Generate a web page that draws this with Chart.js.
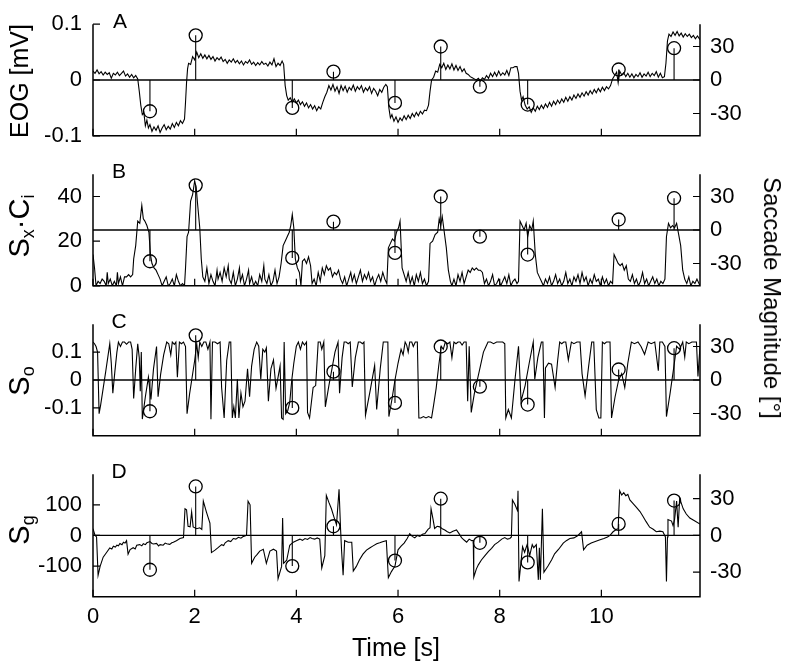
<!DOCTYPE html>
<html><head><meta charset="utf-8">
<script src="https://cdn.jsdelivr.net/npm/chart.js@4.4.0/dist/chart.umd.min.js"></script>
<style>
html,body{margin:0;padding:0;background:#fff;}
body{width:790px;height:669px;position:relative;overflow:hidden;font-family:"Liberation Sans",Arial,sans-serif;color:#000;}
canvas{position:absolute;left:0;}
.rl{position:absolute;white-space:nowrap;transform:translate(-50%,-50%) rotate(-90deg);font-size:25px;line-height:1;}
.rr{position:absolute;white-space:nowrap;transform:translate(-50%,-50%) rotate(90deg);font-size:24px;line-height:1;}
.tx{position:absolute;white-space:nowrap;transform:translate(-50%,-50%);line-height:1;}
.big{font-size:29px;}
sub{font-size:62%;vertical-align:-0.3em;line-height:0;}
</style></head><body>
<canvas id="cA" width="790" height="160" style="top:0px"></canvas>
<canvas id="cB" width="790" height="160" style="top:150px"></canvas>
<canvas id="cC" width="790" height="160" style="top:300px"></canvas>
<canvas id="cD" width="790" height="219" style="top:450px"></canvas>

<div class="rl" style="left:19px;top:81px">EOG [mV]</div>
<div class="rl big" style="left:19px;top:226px">S<sub>x</sub>·C<sub>i</sub></div>
<div class="rl big" style="left:19px;top:381px">S<sub>o</sub></div>
<div class="rl big" style="left:19px;top:530px">S<sub>g</sub></div>
<div class="rr" style="left:772px;top:298px">Saccade Magnitude [°]</div>
<div class="tx" style="left:396px;top:647px;font-size:25px">Time [s]</div>
<div class="tx" style="left:120px;top:20px;font-size:21px">A</div>
<div class="tx" style="left:119px;top:170px;font-size:21px">B</div>
<div class="tx" style="left:119px;top:320px;font-size:21px">C</div>
<div class="tx" style="left:119px;top:470px;font-size:21px">D</div>

<script>
const TIME_MAX = 11.94;
const X_TICKS = [0, 2, 4, 6, 8, 10];
const MAG_TICKS = [-30, 0, 30];
const SAC_T = [1.12, 2.02, 3.92, 4.73, 5.94, 6.84, 7.61, 8.55, 10.34, 11.43];
const SAC_M = [-28, 40, -25, 7.5, -20.5, 30, -6, -22, 9.4, 28.5];

const EOG = [[0.00,0.016],[0.04,0.012],[0.08,0.018],[0.12,0.011],[0.16,0.015],[0.20,0.009],[0.24,0.014],[0.28,0.010],[0.32,0.013],[0.36,0.003],[0.40,0.012],[0.44,0.009],[0.48,0.014],[0.52,0.008],[0.56,0.012],[0.60,0.016],[0.64,0.007],[0.68,0.011],[0.72,0.005],[0.76,0.010],[0.80,0.004],[0.84,0.008],[0.88,0.002],[0.91,-0.020],[0.94,-0.045],[0.97,-0.062],[1.00,-0.058],[1.03,-0.082],[1.06,-0.072],[1.09,-0.086],[1.12,-0.080],[1.16,-0.092],[1.20,-0.084],[1.24,-0.090],[1.28,-0.082],[1.32,-0.094],[1.36,-0.086],[1.40,-0.080],[1.44,-0.089],[1.48,-0.083],[1.52,-0.088],[1.56,-0.078],[1.60,-0.085],[1.64,-0.076],[1.68,-0.082],[1.72,-0.073],[1.76,-0.078],[1.80,-0.070],[1.82,-0.040],[1.84,-0.005],[1.86,0.020],[1.88,0.030],[1.92,0.028],[1.96,0.042],[2.00,0.036],[2.04,0.050],[2.08,0.040],[2.12,0.047],[2.16,0.039],[2.20,0.045],[2.24,0.038],[2.28,0.044],[2.32,0.037],[2.36,0.042],[2.40,0.034],[2.44,0.040],[2.48,0.036],[2.52,0.041],[2.56,0.033],[2.60,0.037],[2.64,0.030],[2.68,0.036],[2.72,0.032],[2.76,0.038],[2.80,0.031],[2.84,0.035],[2.88,0.029],[2.92,0.034],[2.96,0.027],[3.00,0.033],[3.04,0.030],[3.08,0.036],[3.12,0.028],[3.16,0.032],[3.20,0.026],[3.24,0.031],[3.28,0.027],[3.32,0.033],[3.36,0.028],[3.40,0.030],[3.44,0.025],[3.48,0.032],[3.52,0.027],[3.56,0.038],[3.60,0.024],[3.64,0.030],[3.68,0.026],[3.72,0.034],[3.75,0.028],[3.78,-0.010],[3.81,-0.028],[3.84,-0.036],[3.88,-0.032],[3.92,-0.040],[3.96,-0.034],[4.00,-0.041],[4.04,-0.036],[4.08,-0.044],[4.12,-0.039],[4.16,-0.047],[4.20,-0.041],[4.24,-0.050],[4.28,-0.044],[4.32,-0.052],[4.36,-0.046],[4.40,-0.055],[4.44,-0.048],[4.48,-0.052],[4.52,-0.040],[4.56,-0.030],[4.60,-0.022],[4.64,-0.010],[4.68,-0.018],[4.72,-0.008],[4.76,-0.020],[4.80,-0.012],[4.84,-0.024],[4.88,-0.010],[4.92,-0.019],[4.96,-0.011],[5.00,-0.022],[5.04,-0.013],[5.08,-0.018],[5.12,-0.009],[5.16,-0.020],[5.20,-0.012],[5.24,-0.017],[5.28,-0.010],[5.32,-0.022],[5.36,-0.014],[5.40,-0.019],[5.44,-0.012],[5.48,-0.024],[5.52,-0.015],[5.56,-0.020],[5.60,-0.028],[5.64,-0.017],[5.68,-0.022],[5.72,-0.013],[5.76,-0.008],[5.79,-0.012],[5.82,-0.050],[5.85,-0.068],[5.88,-0.062],[5.92,-0.074],[5.96,-0.066],[6.00,-0.076],[6.04,-0.068],[6.08,-0.073],[6.12,-0.064],[6.16,-0.071],[6.20,-0.063],[6.24,-0.069],[6.28,-0.060],[6.32,-0.066],[6.36,-0.058],[6.40,-0.064],[6.44,-0.056],[6.48,-0.061],[6.52,-0.054],[6.56,-0.055],[6.60,-0.045],[6.63,-0.020],[6.66,0.000],[6.70,0.005],[6.74,0.016],[6.78,0.014],[6.82,0.028],[6.86,0.022],[6.90,0.030],[6.94,0.019],[6.98,0.027],[7.02,0.020],[7.06,0.029],[7.10,0.018],[7.14,0.026],[7.18,0.017],[7.22,0.024],[7.26,0.015],[7.30,0.020],[7.34,0.012],[7.38,0.010],[7.42,0.006],[7.46,0.004],[7.50,0.002],[7.54,0.000],[7.58,0.003],[7.62,-0.002],[7.66,0.004],[7.70,0.001],[7.74,0.008],[7.78,0.003],[7.82,0.012],[7.86,0.006],[7.90,0.014],[7.94,0.007],[7.98,0.016],[8.02,0.008],[8.06,0.013],[8.10,0.009],[8.14,0.017],[8.18,0.008],[8.22,0.022],[8.26,0.022],[8.30,0.024],[8.34,0.024],[8.37,0.012],[8.40,-0.020],[8.43,-0.036],[8.46,-0.030],[8.50,-0.045],[8.54,-0.052],[8.58,-0.048],[8.62,-0.058],[8.66,-0.050],[8.70,-0.056],[8.74,-0.047],[8.78,-0.053],[8.82,-0.045],[8.86,-0.051],[8.90,-0.043],[8.94,-0.049],[8.98,-0.040],[9.02,-0.047],[9.06,-0.038],[9.10,-0.044],[9.14,-0.036],[9.18,-0.042],[9.22,-0.034],[9.26,-0.040],[9.30,-0.031],[9.34,-0.038],[9.38,-0.030],[9.42,-0.036],[9.46,-0.027],[9.50,-0.033],[9.54,-0.025],[9.58,-0.031],[9.62,-0.023],[9.66,-0.029],[9.70,-0.021],[9.74,-0.027],[9.78,-0.019],[9.82,-0.025],[9.86,-0.017],[9.90,-0.023],[9.94,-0.015],[9.98,-0.021],[10.02,-0.013],[10.06,-0.019],[10.10,-0.012],[10.14,-0.016],[10.18,-0.010],[10.22,0.002],[10.26,0.008],[10.30,0.014],[10.33,-0.005],[10.36,0.016],[10.40,0.009],[10.44,0.013],[10.48,0.006],[10.52,0.012],[10.56,0.005],[10.60,0.011],[10.64,0.004],[10.68,0.010],[10.72,0.006],[10.76,0.013],[10.80,0.005],[10.84,0.011],[10.88,0.007],[10.92,0.014],[10.96,0.006],[11.00,0.012],[11.04,0.008],[11.08,0.015],[11.12,0.005],[11.16,0.012],[11.20,0.004],[11.24,0.006],[11.27,0.030],[11.30,0.070],[11.33,0.082],[11.37,0.078],[11.41,0.086],[11.45,0.080],[11.49,0.087],[11.53,0.079],[11.57,0.084],[11.61,0.077],[11.65,0.083],[11.69,0.078],[11.73,0.082],[11.77,0.076],[11.81,0.080],[11.85,0.074],[11.89,0.079],[11.94,0.072]];

const SXCI = [[0.00,14],[0.03,8],[0.06,0],[0.10,2],[0.14,1],[0.18,3],[0.22,2],[0.26,0],[0.28,6],[0.30,1],[0.34,3],[0.38,0],[0.42,2],[0.46,0],[0.48,6],[0.50,1],[0.54,4],[0.58,0],[0.62,4],[0.66,4],[0.70,5],[0.74,4],[0.78,5],[0.80,12],[0.84,18],[0.88,29],[0.92,28],[0.96,36],[0.99,30],[1.02,29],[1.06,27],[1.10,24],[1.13,14],[1.16,10],[1.20,8],[1.24,7],[1.28,5],[1.32,3],[1.36,0],[1.40,2],[1.44,4],[1.48,0],[1.52,1],[1.56,3],[1.60,0],[1.64,5],[1.68,2],[1.72,0],[1.76,1],[1.80,0],[1.82,8],[1.85,22],[1.88,24],[1.92,38],[1.96,41],[2.00,47],[2.03,44],[2.06,36],[2.10,26],[2.13,12],[2.16,4],[2.20,2],[2.24,8],[2.28,1],[2.32,5],[2.36,2],[2.40,0],[2.44,7],[2.46,3],[2.50,6],[2.54,2],[2.58,8],[2.62,4],[2.66,9],[2.68,3],[2.72,1],[2.76,6],[2.80,0],[2.84,3],[2.88,8],[2.90,2],[2.94,5],[2.98,0],[3.02,3],[3.06,7],[3.08,1],[3.12,4],[3.16,0],[3.20,2],[3.24,0],[3.28,5],[3.32,2],[3.36,9],[3.38,3],[3.42,1],[3.46,5],[3.50,0],[3.54,2],[3.58,7],[3.62,1],[3.66,4],[3.70,10],[3.74,18],[3.78,20],[3.82,22],[3.86,24],[3.89,27],[3.92,32],[3.95,26],[3.98,12],[4.02,8],[4.06,6],[4.09,0],[4.12,11],[4.16,12],[4.20,10],[4.24,13],[4.28,9],[4.31,1],[4.35,3],[4.39,0],[4.43,6],[4.47,2],[4.51,8],[4.55,5],[4.59,9],[4.63,7],[4.67,8],[4.71,4],[4.75,6],[4.79,5],[4.83,7],[4.87,3],[4.91,1],[4.95,4],[4.99,0],[5.03,3],[5.07,6],[5.10,2],[5.14,5],[5.18,1],[5.22,4],[5.26,7],[5.30,2],[5.34,5],[5.38,3],[5.42,6],[5.46,2],[5.50,4],[5.54,0],[5.58,3],[5.62,5],[5.66,2],[5.70,6],[5.74,3],[5.78,1],[5.81,17],[5.85,19],[5.89,21],[5.93,20],[5.97,24],[6.01,26],[6.04,29],[6.08,8],[6.12,5],[6.16,2],[6.20,6],[6.24,1],[6.28,4],[6.32,0],[6.36,5],[6.40,2],[6.44,6],[6.48,1],[6.52,3],[6.56,0],[6.60,2],[6.63,19],[6.68,20],[6.73,23],[6.78,24],[6.81,30],[6.84,27],[6.87,31],[6.91,24],[6.95,17],[6.99,7],[7.03,2],[7.06,0],[7.10,3],[7.14,0],[7.18,5],[7.22,2],[7.26,6],[7.30,1],[7.34,4],[7.38,7],[7.42,6],[7.46,8],[7.50,7],[7.54,8],[7.58,7],[7.62,7],[7.66,6],[7.70,1],[7.74,3],[7.78,0],[7.82,2],[7.86,5],[7.90,0],[7.94,1],[7.98,3],[8.02,0],[8.06,2],[8.10,4],[8.14,1],[8.18,5],[8.22,0],[8.26,2],[8.30,3],[8.34,1],[8.37,2],[8.40,29],[8.44,27],[8.48,25],[8.52,28],[8.55,22],[8.59,27],[8.63,25],[8.66,29],[8.70,14],[8.74,6],[8.78,4],[8.82,2],[8.86,0],[8.90,3],[8.94,1],[8.98,4],[9.02,0],[9.06,2],[9.10,5],[9.14,1],[9.18,3],[9.22,0],[9.26,2],[9.30,6],[9.34,1],[9.38,3],[9.42,0],[9.46,4],[9.50,2],[9.54,5],[9.58,1],[9.62,6],[9.66,2],[9.70,4],[9.74,0],[9.78,3],[9.82,1],[9.86,5],[9.90,2],[9.94,3],[9.98,0],[10.02,4],[10.06,1],[10.10,3],[10.14,0],[10.18,2],[10.22,1],[10.25,14],[10.29,12],[10.33,10],[10.37,9],[10.41,10],[10.45,7],[10.49,9],[10.53,3],[10.57,2],[10.61,5],[10.65,1],[10.69,3],[10.73,0],[10.77,2],[10.81,6],[10.85,1],[10.89,3],[10.93,0],[10.97,2],[11.01,4],[11.05,1],[11.09,3],[11.13,0],[11.17,2],[11.21,1],[11.25,3],[11.28,22],[11.32,28],[11.36,26],[11.40,27],[11.44,26],[11.48,28],[11.52,23],[11.56,18],[11.60,7],[11.64,3],[11.68,1],[11.72,4],[11.76,0],[11.80,2],[11.84,1],[11.88,3],[11.94,0]];

const SO = [[0.00,0.136],[0.03,0.130],[0.06,0.120],[0.09,0.100],[0.12,-0.121],[0.15,-0.090],[0.20,-0.030],[0.25,0.030],[0.29,0.080],[0.33,0.130],[0.36,0.060],[0.39,-0.047],[0.43,0.030],[0.47,0.100],[0.50,0.136],[0.54,0.120],[0.58,0.136],[0.62,0.136],[0.66,0.128],[0.70,0.136],[0.74,0.136],[0.77,0.110],[0.80,-0.066],[0.84,0.040],[0.88,0.130],[0.91,0.080],[0.93,-0.040],[0.95,0.100],[0.97,-0.140],[1.03,-0.060],[1.09,0.010],[1.14,-0.070],[1.19,0.040],[1.25,0.120],[1.28,-0.060],[1.33,0.020],[1.39,0.090],[1.45,0.136],[1.49,0.130],[1.53,0.090],[1.56,0.136],[1.60,0.128],[1.63,0.136],[1.66,0.010],[1.70,0.136],[1.74,0.130],[1.78,0.136],[1.82,0.120],[1.85,-0.121],[1.90,-0.050],[1.95,0.010],[2.00,0.070],[2.04,0.130],[2.07,0.080],[2.10,0.136],[2.14,0.120],[2.18,0.136],[2.22,0.136],[2.26,0.110],[2.30,0.136],[2.32,-0.141],[2.35,0.136],[2.40,0.136],[2.45,0.130],[2.50,0.136],[2.53,-0.027],[2.58,-0.136],[2.63,0.070],[2.68,0.136],[2.71,0.136],[2.74,-0.136],[2.77,-0.096],[2.80,-0.136],[2.84,0.003],[2.87,-0.136],[2.91,-0.047],[2.95,-0.096],[2.99,-0.076],[3.04,0.040],[3.08,-0.060],[3.12,0.050],[3.17,0.110],[3.22,0.136],[3.26,0.121],[3.30,0.003],[3.34,0.110],[3.38,0.100],[3.41,0.115],[3.45,-0.076],[3.50,0.040],[3.55,0.072],[3.60,-0.030],[3.65,0.020],[3.68,0.050],[3.71,-0.136],[3.74,-0.141],[3.76,0.136],[3.79,-0.121],[3.83,-0.110],[3.87,-0.080],[3.91,0.000],[3.95,0.060],[4.00,0.121],[4.04,0.136],[4.08,0.110],[4.12,0.136],[4.16,0.125],[4.20,0.136],[4.22,-0.116],[4.26,-0.136],[4.33,-0.027],[4.38,-0.020],[4.43,0.136],[4.47,0.136],[4.50,0.110],[4.54,0.136],[4.57,-0.096],[4.64,-0.020],[4.70,0.040],[4.76,0.100],[4.82,0.136],[4.85,-0.047],[4.90,0.080],[4.94,0.136],[4.98,0.136],[5.02,0.130],[5.06,0.136],[5.10,-0.025],[5.16,0.080],[5.22,0.136],[5.26,0.136],[5.30,0.130],[5.33,0.136],[5.36,-0.126],[5.45,-0.040],[5.54,0.052],[5.58,-0.106],[5.65,0.040],[5.71,0.136],[5.76,0.136],[5.80,0.136],[5.82,-0.131],[5.88,-0.070],[5.94,0.000],[6.00,0.060],[6.06,0.110],[6.10,0.090],[6.14,0.136],[6.17,0.125],[6.20,0.100],[6.23,0.136],[6.27,0.136],[6.30,0.120],[6.34,0.136],[6.38,0.136],[6.41,-0.136],[6.45,-0.136],[6.50,-0.131],[6.55,-0.136],[6.60,-0.131],[6.66,-0.136],[6.70,-0.090],[6.75,-0.030],[6.80,0.050],[6.85,0.121],[6.89,0.110],[6.93,0.136],[6.98,0.130],[7.02,0.136],[7.06,0.080],[7.10,0.136],[7.14,0.130],[7.18,0.136],[7.22,0.136],[7.26,0.125],[7.30,0.136],[7.34,0.136],[7.37,-0.076],[7.40,0.121],[7.44,-0.116],[7.50,-0.050],[7.56,0.000],[7.62,0.050],[7.68,0.100],[7.73,0.120],[7.77,0.136],[7.82,0.136],[7.88,0.130],[7.94,0.136],[8.00,0.136],[8.06,0.136],[8.10,0.130],[8.12,-0.136],[8.17,-0.106],[8.23,-0.136],[8.30,0.000],[8.37,0.121],[8.42,-0.076],[8.50,-0.020],[8.58,0.060],[8.66,0.136],[8.69,0.003],[8.75,0.080],[8.82,0.136],[8.85,0.136],[8.88,-0.136],[8.90,0.043],[8.96,0.060],[9.02,0.057],[9.09,-0.027],[9.14,0.070],[9.18,0.136],[9.22,0.130],[9.26,0.136],[9.30,0.136],[9.35,0.072],[9.41,0.136],[9.46,0.130],[9.52,0.136],[9.58,0.136],[9.62,0.023],[9.68,-0.057],[9.75,0.050],[9.81,0.136],[9.85,0.136],[9.90,-0.106],[9.95,-0.136],[9.99,-0.136],[10.02,0.136],[10.06,0.130],[10.10,0.136],[10.17,0.136],[10.20,-0.136],[10.27,-0.060],[10.34,0.000],[10.40,0.023],[10.46,-0.027],[10.52,0.060],[10.59,0.136],[10.65,0.130],[10.72,0.136],[10.78,0.120],[10.85,0.092],[10.92,0.136],[10.98,0.130],[11.05,0.136],[11.12,0.033],[11.15,0.136],[11.20,0.136],[11.25,0.120],[11.28,-0.131],[11.35,-0.050],[11.42,0.040],[11.48,0.121],[11.54,0.110],[11.60,0.136],[11.64,0.082],[11.67,0.136],[11.72,0.130],[11.78,0.136],[11.84,0.136],[11.87,0.136],[11.90,0.013],[11.94,0.120]];

const SG = [[0.00,22],[0.04,0],[0.07,-5],[0.10,-130],[0.14,-101],[0.20,-71],[0.27,-55],[0.33,-41],[0.37,-44],[0.40,-35],[0.44,-38],[0.47,-32],[0.50,-34],[0.53,-26],[0.57,-30],[0.60,-22],[0.63,-25],[0.66,-17],[0.69,-61],[0.73,-46],[0.79,-40],[0.83,-44],[0.86,-32],[0.92,-30],[0.96,-34],[0.99,-27],[1.03,-30],[1.06,-24],[1.12,-20],[1.16,-26],[1.19,-28],[1.25,-26],[1.29,-34],[1.32,-30],[1.38,-32],[1.42,-25],[1.45,-27],[1.51,-29],[1.55,-24],[1.58,-22],[1.64,-17],[1.71,-10],[1.78,-7],[1.81,87],[1.84,84],[1.87,30],[1.91,28],[1.94,77],[1.97,28],[2.04,22],[2.10,25],[2.14,20],[2.17,112],[2.23,77],[2.30,40],[2.33,-56],[2.40,-48],[2.46,-40],[2.53,-30],[2.57,-33],[2.60,-24],[2.66,-17],[2.71,-20],[2.76,-10],[2.81,-12],[2.86,-6],[2.91,-9],[2.96,-3],[3.02,0],[3.05,112],[3.09,100],[3.12,-91],[3.18,-71],[3.23,-62],[3.28,-51],[3.35,-45],[3.41,-91],[3.48,-51],[3.55,-45],[3.61,-51],[3.64,-141],[3.71,-101],[3.73,57],[3.75,-91],[3.81,-81],[3.87,-32],[3.94,-22],[4.00,-17],[4.07,-12],[4.12,-16],[4.17,-10],[4.22,-13],[4.27,-7],[4.31,-10],[4.36,-12],[4.41,-8],[4.46,-12],[4.50,-106],[4.56,-66],[4.59,131],[4.64,108],[4.69,87],[4.74,60],[4.79,35],[4.84,151],[4.87,20],[4.89,-51],[4.92,-130],[4.95,-17],[5.02,-22],[5.09,-22],[5.12,-116],[5.18,-101],[5.24,-80],[5.31,-61],[5.38,-48],[5.45,-40],[5.51,-34],[5.58,-27],[5.64,-24],[5.71,-20],[5.77,-17],[5.81,-138],[5.87,-118],[5.94,-100],[6.00,-47],[6.06,-35],[6.12,-25],[6.18,-10],[6.23,6],[6.28,-3],[6.33,-8],[6.38,0],[6.43,-3],[6.48,4],[6.53,6],[6.59,20],[6.63,25],[6.65,87],[6.69,52],[6.72,23],[6.77,30],[6.82,28],[6.87,22],[6.92,18],[6.97,12],[7.02,8],[7.08,14],[7.15,18],[7.20,6],[7.25,-7],[7.30,-15],[7.35,-22],[7.40,-12],[7.45,-17],[7.48,-17],[7.49,-136],[7.54,-110],[7.58,-96],[7.64,-80],[7.71,-66],[7.78,-52],[7.84,-42],[7.90,-30],[7.97,-22],[8.04,-12],[8.10,-7],[8.15,-12],[8.20,-10],[8.23,-5],[8.25,116],[8.30,101],[8.35,81],[8.36,146],[8.38,-150],[8.45,-37],[8.49,-55],[8.54,-30],[8.59,-66],[8.64,-30],[8.67,-40],[8.72,-30],[8.76,-145],[8.78,-40],[8.80,-145],[8.84,87],[8.87,-120],[8.95,-100],[9.02,-80],[9.08,-60],[9.16,-45],[9.25,-25],[9.31,-17],[9.38,-10],[9.46,-8],[9.54,0],[9.61,12],[9.65,-47],[9.72,-32],[9.80,-25],[9.88,-20],[9.96,-15],[10.05,-10],[10.12,-5],[10.17,0],[10.23,12],[10.30,20],[10.33,22],[10.36,146],[10.40,132],[10.44,140],[10.48,130],[10.52,134],[10.56,116],[10.62,105],[10.69,92],[10.76,78],[10.82,62],[10.88,45],[10.95,27],[11.02,20],[11.08,12],[11.15,14],[11.21,12],[11.26,-5],[11.28,-150],[11.30,-5],[11.31,52],[11.38,47],[11.41,32],[11.44,52],[11.48,112],[11.51,27],[11.54,121],[11.61,87],[11.67,70],[11.74,57],[11.84,47],[11.94,37]];

const PANELS = [
  {id:'cA', sig:EOG,  yMin:-0.1, yMax:0.1, ticks:[-0.1,0,0.1], ref:0,  last:false},
  {id:'cB', sig:SXCI, yMin:0,    yMax:50,  ticks:[0,20,40],    ref:25, last:false},
  {id:'cC', sig:SO,   yMin:-0.2, yMax:0.2, ticks:[-0.1,0,0.1], ref:0,  last:false},
  {id:'cD', sig:SG,   yMin:-200, yMax:200, ticks:[-100,0,100], ref:0,  last:true}
];

const FONT = {family:'"Liberation Sans", Arial, sans-serif', size:22};
const PLOT_TOP = 12, PLOT_H = 134.7, LEFT_W = 93, RIGHT_W = 90;

const axesPlugin = {
  id:'axesDraw',
  afterDatasetsDraw(chart){
    const ctx = chart.ctx, a = chart.chartArea;
    const xs = chart.scales.x, yl = chart.scales.yL, yr = chart.scales.yR;
    ctx.save();
    ctx.strokeStyle = '#000';
    ctx.lineWidth = 1.5;
    ctx.beginPath();
    ctx.moveTo(a.left, a.top); ctx.lineTo(a.left, a.bottom);
    ctx.lineTo(a.right, a.bottom); ctx.lineTo(a.right, a.top);
    ctx.stroke();
    ctx.lineWidth = 1.2;
    ctx.beginPath();
    X_TICKS.forEach(v => { const p = xs.getPixelForValue(v); ctx.moveTo(p, a.bottom); ctx.lineTo(p, a.bottom - 7); });
    yl.ticks.forEach(t => { const p = yl.getPixelForValue(t.value); ctx.moveTo(a.left, p); ctx.lineTo(a.left + 7, p); });
    yr.ticks.forEach(t => { const p = yr.getPixelForValue(t.value); ctx.moveTo(a.right, p); ctx.lineTo(a.right - 7, p); });
    ctx.stroke();
    ctx.restore();
  }
};

const stemData = [];
SAC_T.forEach((t, i) => { stemData.push({x:t, y:0}, {x:t, y:SAC_M[i]}, {x:t, y:null}); });
const circData = SAC_T.map((t, i) => ({x:t, y:SAC_M[i]}));

PANELS.forEach(p => {
  const cv = document.getElementById(p.id);
  const H = cv.height;
  const xH = H - PLOT_TOP - PLOT_H;
  new Chart(cv, {
    type:'line',
    data:{datasets:[
      {data:[{x:0,y:p.ref},{x:TIME_MAX,y:p.ref}], yAxisID:'yL', borderColor:'#000', borderWidth:1.3, pointRadius:0},
      {data:p.sig.map(d => ({x:d[0], y:d[1]})), yAxisID:'yL', borderColor:'#000', borderWidth:1.1, pointRadius:0, tension:0},
      {data:stemData, yAxisID:'yR', borderColor:'#000', borderWidth:1.1, pointRadius:0, spanGaps:false},
      {data:circData, yAxisID:'yR', showLine:false, pointRadius:6.5, pointBorderWidth:1.3, pointBorderColor:'#000', pointBackgroundColor:'rgba(0,0,0,0)'}
    ]},
    options:{
      responsive:false, devicePixelRatio:1, animation:false, events:[],
      layout:{autoPadding:false, padding:{top:PLOT_TOP, left:0, right:0, bottom:0}},
      plugins:{legend:{display:false}, tooltip:{enabled:false}},
      scales:{
        x:{type:'linear', min:0, max:TIME_MAX, position:'bottom',
           grid:{display:false, drawTicks:false}, border:{display:false},
           afterBuildTicks: s => { s.ticks = X_TICKS.map(v => ({value:v})); },
           ticks:{display:p.last, autoSkip:false, maxRotation:0, padding:7, color:'#000', font:FONT, callback:v => String(v)},
           afterFit: s => { s.height = xH; }},
        yL:{type:'linear', position:'left', min:p.yMin, max:p.yMax,
           grid:{display:false, drawTicks:false}, border:{display:false},
           afterBuildTicks: s => { s.ticks = p.ticks.map(v => ({value:v})); },
           ticks:{autoSkip:false, padding:11, color:'#000', font:FONT, callback:v => String(v)},
           afterFit: s => { s.width = LEFT_W; }},
        yR:{type:'linear', position:'right', min:-50, max:50,
           grid:{display:false, drawTicks:false}, border:{display:false},
           afterBuildTicks: s => { s.ticks = MAG_TICKS.map(v => ({value:v})); },
           ticks:{autoSkip:false, padding:10, color:'#000', font:FONT, callback:v => String(v)},
           afterFit: s => { s.width = RIGHT_W; }}
      }
    },
    plugins:[axesPlugin]
  });
});
</script>
</body></html>
